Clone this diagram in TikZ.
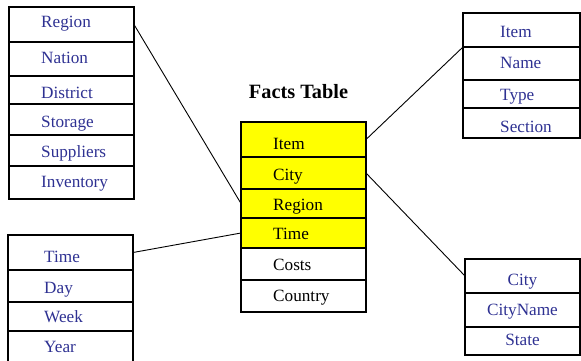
\documentclass[tikz,border=0pt]{standalone}
\usepackage{fontspec}
\setmainfont{Liberation Serif}
\usetikzlibrary{positioning}
\definecolor{inkblue}{HTML}{2E3192}
\definecolor{factyellow}{HTML}{FFFF00}

\begin{document}
\begin{tikzpicture}[x=1pt, y=-1pt,
    cell/.style={draw, line width=1.1pt, inner sep=0pt, outer sep=0pt},
    txt/.style={text=inkblue, font=\fontsize{17.2}{20}\selectfont, inner sep=0pt},
    link/.style={line width=0.9pt}]
  \useasboundingbox (0,0) rectangle (581,360);
  % location table (top left)
  \foreach \txt/\ya/\yb/\yc [count=\i] in {Region/7/42/27, Nation/42/76/63,
      District/76/104/98, Storage/104/135/127, Suppliers/135/166/157,
      Inventory/166/199/187}{
    \node[cell, minimum width=125pt, minimum height={(\yb-\ya)*1pt}]
      (loc-\i) at (71.5,{(\ya+\yb)/2}) {};
    \node[txt, anchor=base west] (loc-t\i) at (41,\yc) {\txt};
  }
  % time table (bottom left)
  \foreach \txt/\ya/\yb/\yc [count=\i] in {Time/235/270/262, Day/270/302/293,
      Week/302/331/322, Year/331/363/352}{
    \node[cell, minimum width=125pt, minimum height={(\yb-\ya)*1pt}]
      (tim-\i) at (70.5,{(\ya+\yb)/2}) {};
    \node[txt, anchor=base west] (tim-t\i) at (44,\yc) {\txt};
  }
  % facts table
  \node[font=\bfseries\fontsize{20.3}{24}\selectfont, anchor=base, inner sep=0pt]
    (title) at (298.5,98) {Facts Table};
  \foreach \txt/\ya/\yb/\yc/\fc [count=\i] in {Item/122/157/149/factyellow,
      City/157/189/180/factyellow, Region/189/218/210/factyellow,
      Time/218/248/239/factyellow, Costs/248/280/270/white,
      Country/280/312/301/white}{
    \node[cell, fill=\fc, minimum width=125pt, minimum height={(\yb-\ya)*1pt}]
      (fact-\i) at (303.5,{(\ya+\yb)/2}) {};
    \node[txt, text=black, anchor=base west] (fact-t\i) at (273,\yc) {\txt};
  }
  % item table (top right)
  \foreach \txt/\ya/\yb/\yc [count=\i] in {Item/13/47/37, Name/47/80/68,
      Type/80/108/100, Section/108/138/132}{
    \node[cell, minimum width=117pt, minimum height={(\yb-\ya)*1pt}]
      (itm-\i) at (521.5,{(\ya+\yb)/2}) {};
    \node[txt, anchor=base west] (itm-t\i) at (500,\yc) {\txt};
  }
  % city table (bottom right)
  \foreach \txt/\ya/\yb/\yc [count=\i] in {City/259/293/285,
      CityName/293/327/315, State/327/355/345}{
    \node[cell, minimum width=115pt, minimum height={(\yb-\ya)*1pt}]
      (cty-\i) at (522.5,{(\ya+\yb)/2}) {};
    \node[txt, anchor=base] (cty-t\i) at (522.5,\yc) {\txt};
  }
  % links
  \draw[link] (loc-1.east) -- (fact-3.west);
  \draw[link] (tim-1.east) -- (fact-4.west);
  \draw[link] (fact-1.east) -- (itm-1.south west);
  \draw[link] (fact-2.east) -- (cty-1.west);
\end{tikzpicture}
\end{document}
